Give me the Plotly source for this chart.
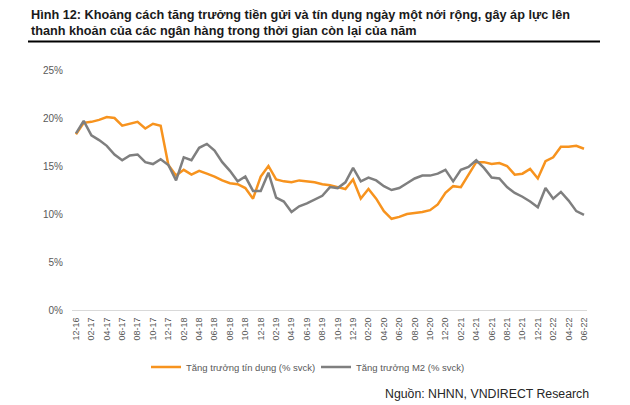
import plotly.graph_objects as go

months = [
    "12-16",
    "01-17", "02-17", "03-17", "04-17", "05-17", "06-17", "07-17", "08-17", "09-17", "10-17", "11-17", "12-17",
    "01-18", "02-18", "03-18", "04-18", "05-18", "06-18", "07-18", "08-18", "09-18", "10-18", "11-18", "12-18",
    "01-19", "02-19", "03-19", "04-19", "05-19", "06-19", "07-19", "08-19", "09-19", "10-19", "11-19", "12-19",
    "01-20", "02-20", "03-20", "04-20", "05-20", "06-20", "07-20", "08-20", "09-20", "10-20", "11-20", "12-20",
    "01-21", "02-21", "03-21", "04-21", "05-21", "06-21", "07-21", "08-21", "09-21", "10-21", "11-21", "12-21",
    "01-22", "02-22", "03-22", "04-22", "05-22", "06-22",
]

tick_labels = months[::2]

credit_growth = [
    18.3, 19.5, 19.6, 19.8, 20.1, 20.0, 19.2, 19.4, 19.6, 18.9, 19.4, 19.2,
    15.1, 14.0, 14.6, 14.1, 14.5, 14.2, 13.9, 13.5, 13.2, 13.1, 12.7, 11.6,
    13.9, 15.0, 13.6, 13.4, 13.3, 13.5, 13.4, 13.3, 13.1, 13.0, 12.8, 12.6,
    13.6, 11.6, 12.6, 11.6, 10.3, 9.5, 9.7, 10.0, 10.1, 10.2, 10.4, 11.0,
    12.2, 12.9, 12.8, 14.1, 15.4, 15.4, 15.2, 15.3, 15.0, 14.1, 14.2, 14.7,
    13.7, 15.5, 15.9, 17.0, 17.0, 17.1, 16.8,
]

m2_growth = [
    18.4, 19.7, 18.2, 17.7, 17.1, 16.2, 15.6, 16.1, 16.2, 15.4, 15.2, 15.7,
    15.1, 13.5, 15.9, 15.6, 16.9, 17.3, 16.6, 15.4, 14.5, 13.4, 13.9, 12.4,
    12.4, 14.3, 11.7, 11.3, 10.2, 10.8, 11.1, 11.5, 11.9, 12.8, 12.7, 13.3,
    14.8, 13.4, 13.8, 13.5, 12.9, 12.5, 12.7, 13.2, 13.7, 14.0, 14.0, 14.2,
    14.6, 13.4, 14.6, 14.9, 15.6, 14.8, 13.8, 13.7, 12.8, 12.2, 11.8, 11.3,
    10.7, 12.7, 11.6, 12.3, 11.4, 10.3, 9.9,
]

series_names = ["Tăng trưởng tín dụng (% svck)", "Tăng trưởng M2 (% svck)"]
y_ticks = [0, 5, 10, 15, 20, 25]

title_line1 = "Hình 12: Khoảng cách tăng trưởng tiền gửi và tín dụng ngày một nới rộng, gây áp lực lên"
title_line2 = "thanh khoản của các ngân hàng trong thời gian còn lại của năm"
source_text = "Nguồn: NHNN, VNDIRECT Research"

W, H = 630, 405
L, R, T, B = 72, 43, 70, 95
pw = W - L - R
ph = H - T - B


def px(xp):
    return (xp - L) / pw


def py(yp):
    return (H - B - yp) / ph


FONT = "Liberation Sans, Arial, sans-serif"

fig = go.Figure()
fig.add_trace(go.Scatter(
    x=months, y=credit_growth, mode="lines", name=series_names[0],
    line=dict(color="#F7931E", width=2.5),
))
fig.add_trace(go.Scatter(
    x=months, y=m2_growth, mode="lines", name=series_names[1],
    line=dict(color="#7F7F7F", width=2.5),
))

fig.update_layout(
    width=W, height=H,
    margin=dict(l=L, r=R, t=T, b=B, pad=0),
    paper_bgcolor="white", plot_bgcolor="white",
    font=dict(family=FONT, color="#595959", size=10),
    showlegend=True,
    legend=dict(
        orientation="h", x=px(146), y=py(367), xanchor="left", yanchor="middle",
        font=dict(size=9.5, color="#595959", family=FONT),
        itemwidth=30, entrywidth=125, entrywidthmode="pixels",
        bgcolor="rgba(0,0,0,0)", tracegroupgap=0,
    ),
    xaxis=dict(
        type="category", range=[-0.52, 66.39],
        tickmode="array", tickvals=tick_labels, ticktext=tick_labels,
        tickangle=-90, tickfont=dict(size=9, color="#595959"),
        showgrid=False, zeroline=False,
        showline=True, linecolor="#D9D9D9", linewidth=1,
        ticks="", ticklabelstandoff=3,
    ),
    yaxis=dict(
        range=[0, 25], tickmode="array", tickvals=y_ticks,
        ticktext=[f"{v}%" for v in y_ticks],
        tickfont=dict(size=10, color="#595959"),
        showgrid=False, zeroline=False, showline=False,
        ticks="", ticklabelstandoff=8,
    ),
)

fig.add_annotation(
    text=f"<b>{title_line1}</b>", xref="paper", yref="paper",
    x=px(29), y=py(15), xanchor="left", yanchor="middle", showarrow=False,
    font=dict(size=12.7, color="#1a1a1a", family=FONT),
)
fig.add_annotation(
    text=f"<b>{title_line2}</b>", xref="paper", yref="paper",
    x=px(29), y=py(31), xanchor="left", yanchor="middle", showarrow=False,
    font=dict(size=12.7, color="#1a1a1a", family=FONT),
)
fig.add_shape(
    type="line", xref="paper", yref="paper",
    x0=px(28), x1=px(600), y0=py(41.5), y1=py(41.5),
    line=dict(color="black", width=2.2),
)
fig.add_annotation(
    text=source_text, xref="paper", yref="paper",
    x=px(591), y=py(394), xanchor="right", yanchor="middle", showarrow=False,
    font=dict(size=12.3, color="#262626", family=FONT),
)

fig.write_html(
    "out.html",
    config={"displayModeBar": False},
    post_script="document.body.style.margin='0';document.body.style.overflow='hidden';",
)
